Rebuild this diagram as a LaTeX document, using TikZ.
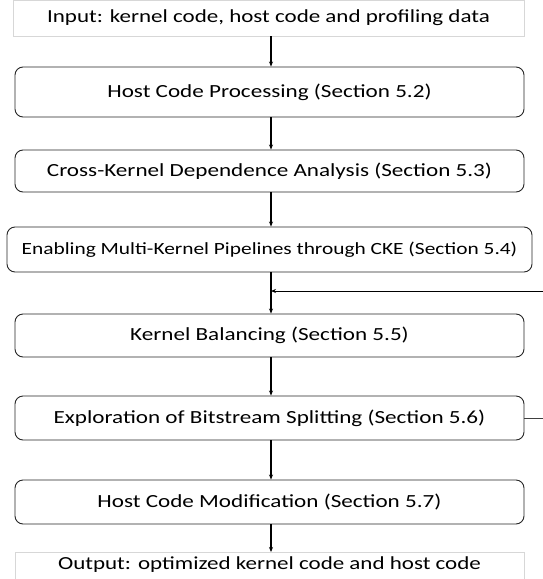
\documentclass[tikz,border=0pt]{standalone}
\usepackage{fontspec}
\setmainfont[FakeStretch=1.25]{Carlito}
\usetikzlibrary{arrows.meta}
\definecolor{lightframe}{RGB}{215,215,215}
\begin{document}
\begin{tikzpicture}[x=1pt,y=-1pt,
  stage/.style={draw=black!85,line width=0.9pt,rounded corners=8pt,inner sep=0pt,font=\fontsize{18.5}{22}\selectfont},
  io/.style={draw=lightframe,line width=0.8pt,inner sep=0pt,font=\fontsize{18.4}{22}\selectfont},
  flow/.style={draw=black,line width=1.1pt,-{Stealth[length=5pt,width=4pt]}}]
\useasboundingbox (0,0) rectangle (543,579);
\node[io,minimum width=511pt,minimum height=36pt] (in) at (268.5,18) {Input: kernel code, host code and profiling data};
\node[stage,minimum width=509pt,minimum height=50pt] (hcp) at (269.5,92) {Host Code Processing (Section 5.2)};
\node[stage,minimum width=509pt,minimum height=42pt] (ckd) at (269.5,171) {Cross-Kernel Dependence Analysis (Section 5.3)};
\node[stage,minimum width=525pt,minimum height=45pt,font=\fontsize{17.1}{20}\selectfont] (cke) at (269.5,249.5) {Enabling Multi-Kernel Pipelines through CKE (Section 5.4)};
\node[stage,minimum width=509pt,minimum height=43pt] (kb) at (269.5,335.5) {Kernel Balancing (Section 5.5)};
\node[stage,minimum width=509pt,minimum height=44pt] (ebs) at (269.5,418) {Exploration of Bitstream Splitting (Section 5.6)};
\node[stage,minimum width=509pt,minimum height=44pt] (hcm) at (269.5,502) {Host Code Modification (Section 5.7)};
\node[io,minimum width=509pt,minimum height=38pt,anchor=north] (out) at (269.5,552) {};
\node[font=\fontsize{18.4}{22}\selectfont,anchor=center] (outtext) at (269.5,565) {Output: optimized kernel code and host code};
\coordinate (fbA) at (543.5,418);
\coordinate (fbB) at (543.5,291);
\coordinate (fbC) at (271,291);
\draw[flow] (in.south -| 271,0) -- (hcp.north -| 271,0);
\draw[flow] (hcp.south -| 271,0) -- (ckd.north -| 271,0);
\draw[flow] (ckd.south -| 271,0) -- (cke.north -| 271,0);
\draw[flow] (cke.south -| 271,0) -- (kb.north -| 271,0);
\draw[flow] (kb.south -| 271,0) -- (ebs.north -| 271,0);
\draw[flow] (ebs.south -| 271,0) -- (hcm.north -| 271,0);
\draw[flow] (hcm.south -| 271,0) -- (out.north -| 271,0);
\draw[draw=black!75,line width=1pt] (ebs.east) -- (fbA) -- (fbB);
\draw[flow,line width=1pt] (fbB) -- (fbC);
\end{tikzpicture}
\end{document}
